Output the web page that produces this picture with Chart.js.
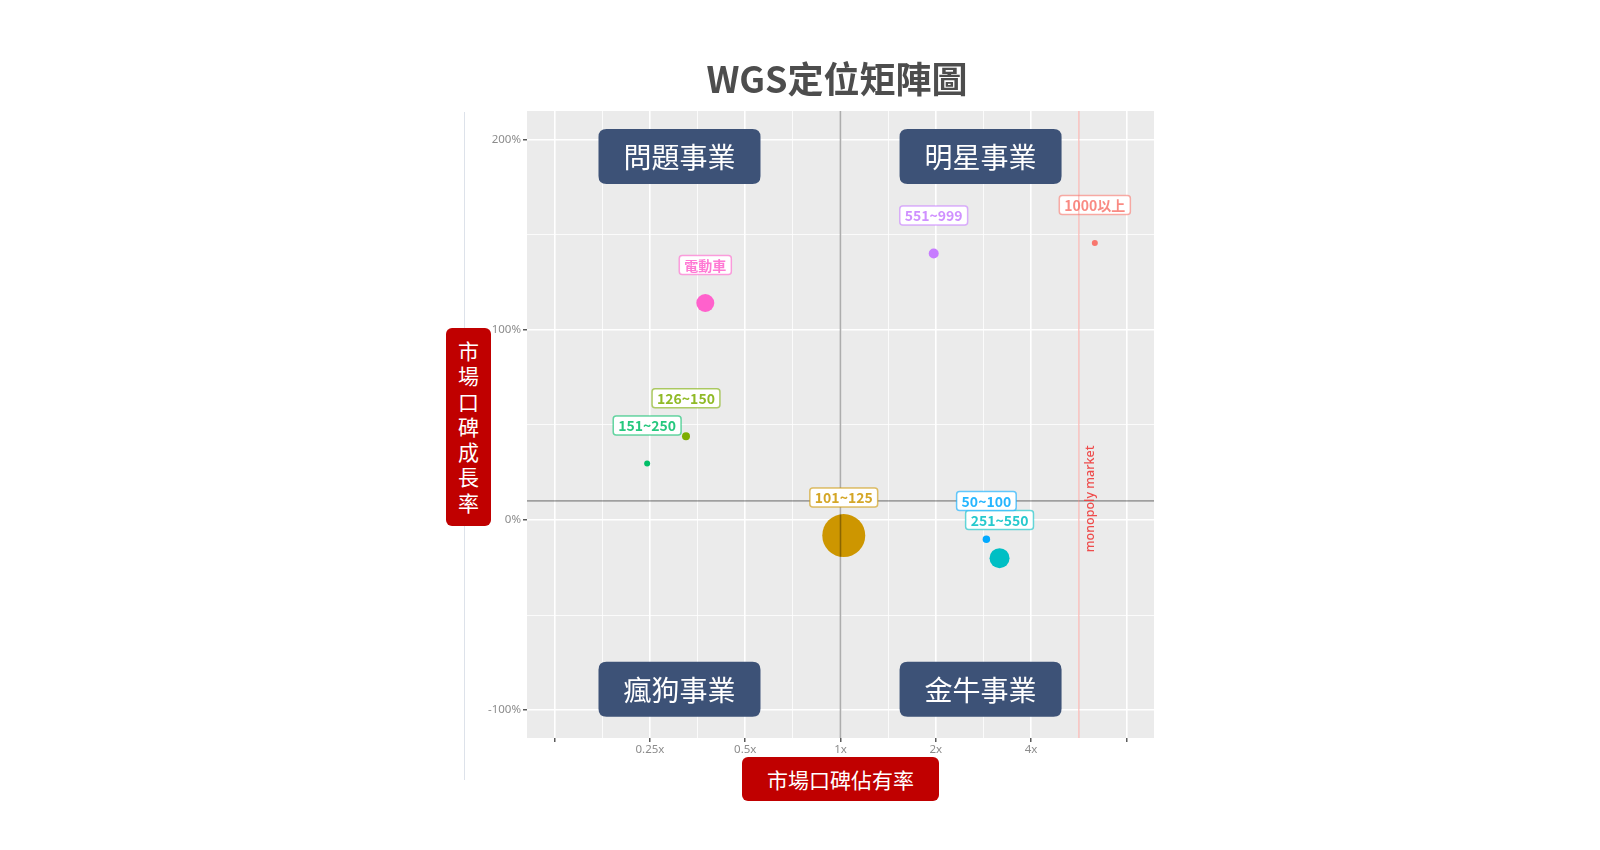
<!DOCTYPE html>
<html>
<head>
<meta charset="utf-8">
<script src="https://cdn.jsdelivr.net/npm/chart.js@4.4.1/dist/chart.umd.min.js"></script>
<style>
html,body{margin:0;padding:0;background:#ffffff;}
#wrap{position:relative;width:1600px;height:850px;overflow:hidden;}
#chart{position:absolute;left:0;top:0;}
#title{position:absolute;left:637px;top:52px;width:400px;text-align:center;font-family:"Noto Sans CJK TC","Noto Sans",sans-serif;font-weight:bold;font-size:36px;line-height:50px;color:#4d4d4d;white-space:nowrap;}
#vline{position:absolute;left:464px;top:112px;width:1px;height:668px;background:#dde2ea;}
#ylab{position:absolute;left:446px;top:328px;width:45px;height:198px;background:#c00000;border-radius:6px;color:#fff;font-family:"Noto Sans CJK TC",sans-serif;font-size:21px;line-height:25.3px;text-align:center;box-sizing:border-box;padding-top:10px;}
#xlab{position:absolute;left:742px;top:757px;width:197px;height:44px;background:#c00000;border-radius:6px;color:#fff;font-family:"Noto Sans CJK TC",sans-serif;font-size:21px;line-height:44px;text-align:center;white-space:nowrap;}
</style>
</head>
<body>
<div id="wrap">
  <canvas id="chart" width="1600" height="850"></canvas>
  <div id="title">WGS定位矩陣圖</div>
  <div id="vline"></div>
  <div id="ylab">市<br>場<br>口<br>碑<br>成<br>長<br>率</div>
  <div id="xlab">市場口碑佔有率</div>
</div>
<script>
// ---- data ----
const categories = ["1000以上", "101~125", "126~150", "151~250", "251~550", "50~100", "551~999", "電動車"];
const shareRatio = [6.36, 1.024, 0.325, 0.245, 3.18, 2.89, 1.97, 0.374];   // relative share (x)
const growthPct  = [145.5, -8.2, 44, 29.6, -20.1, -10.1, 140, 114];         // growth rate (%)
const bubbleSize = [9, 462, 16, 9, 100, 14, 25, 81];                        // volume (area)
const seriesColors = ["#F8766D", "#CD9600", "#7CAE00", "#00BE67", "#00BFC4", "#00A9FF", "#C77CFF", "#FF61CC"];

const xTickValues = [0.125, 0.25, 0.5, 1, 2, 4, 8];
const xTickLabels = ["", "0.25x", "0.5x", "1x", "2x", "4x", ""];
const yTickValues = [-100, 0, 100, 200];
const yTickLabels = ["-100%", "0%", "100%", "200%"];

const quadrantNames = ["問題事業", "明星事業", "瘋狗事業", "金牛事業"];
const quadrantX = [0.31, 2.77, 0.31, 2.77];
const quadrantY = [191, 191, -89, -89];

const refShare = 1;
const refGrowth = 10;
const monopolyShare = 5.66;
const monopolyText = "monopoly market";
const labelNudge = 20;

const xMin = Math.pow(2, -3.29), xMax = Math.pow(2, 3.29);
const yMin = -114.6, yMax = 214.9;

// ---- helpers ----
function hexA(hex, a) {
  const n = parseInt(hex.slice(1), 16);
  return `rgba(${(n >> 16) & 255},${(n >> 8) & 255},${n & 255},${a})`;
}
const xAllTicks = [];
for (let i = 0; i < xTickValues.length; i++) {
  xAllTicks.push({ value: xTickValues[i], major: true, label: xTickLabels[i] });
  if (i < xTickValues.length - 1) xAllTicks.push({ value: xTickValues[i] * Math.SQRT2, major: false, label: "" });
}
const yAllTicks = [];
for (let i = 0; i < yTickValues.length; i++) {
  yAllTicks.push({ value: yTickValues[i], major: true, label: yTickLabels[i] });
  if (i < yTickValues.length - 1) yAllTicks.push({ value: (yTickValues[i] + yTickValues[i + 1]) / 2, major: false, label: "" });
}
function findTick(list, v) {
  return list.find(t => Math.abs(t.value - v) < 1e-6 * Math.max(1, Math.abs(v)));
}
function roundRect(ctx, x, y, w, h, r) {
  ctx.beginPath();
  ctx.moveTo(x + r, y);
  ctx.lineTo(x + w - r, y);
  ctx.quadraticCurveTo(x + w, y, x + w, y + r);
  ctx.lineTo(x + w, y + h - r);
  ctx.quadraticCurveTo(x + w, y + h, x + w - r, y + h);
  ctx.lineTo(x + r, y + h);
  ctx.quadraticCurveTo(x, y + h, x, y + h - r);
  ctx.lineTo(x, y + r);
  ctx.quadraticCurveTo(x, y, x + r, y);
  ctx.closePath();
}

const panelPlugin = {
  id: "panel",
  beforeDraw(chart) {
    const { ctx, chartArea: a } = chart;
    ctx.save();
    ctx.fillStyle = "#EBEBEB";
    ctx.fillRect(a.left, a.top, a.right - a.left, a.bottom - a.top);
    ctx.restore();
  },
  afterDatasetsDraw(chart) {
    const { ctx, chartArea: a } = chart;
    const xs = chart.scales.x, ys = chart.scales.y;
    ctx.save();
    ctx.beginPath();
    ctx.rect(a.left, a.top, a.right - a.left, a.bottom - a.top);
    ctx.clip();
    // reference lines
    ctx.strokeStyle = "rgba(0,0,0,0.32)";
    ctx.lineWidth = 1.6;
    const px1 = xs.getPixelForValue(refShare);
    ctx.beginPath(); ctx.moveTo(px1, a.top); ctx.lineTo(px1, a.bottom); ctx.stroke();
    const py1 = ys.getPixelForValue(refGrowth);
    ctx.beginPath(); ctx.moveTo(a.left, py1); ctx.lineTo(a.right, py1); ctx.stroke();

    // point labels
    ctx.font = "bold 14px 'Noto Sans CJK TC', sans-serif";
    ctx.textAlign = "center";
    ctx.textBaseline = "middle";
    for (let i = 0; i < categories.length; i++) {
      const cx = xs.getPixelForValue(shareRatio[i]);
      const cy = ys.getPixelForValue(growthPct[i] + labelNudge);
      const tw = ctx.measureText(categories[i]).width;
      const w = tw + 10, h = 19;
      roundRect(ctx, cx - w / 2, cy - h / 2, w, h, 3);
      ctx.fillStyle = "#ffffff";
      ctx.fill();
      ctx.strokeStyle = hexA(seriesColors[i], 0.6);
      ctx.lineWidth = 1.5;
      ctx.stroke();
      ctx.fillStyle = hexA(seriesColors[i], 0.85);
      ctx.fillText(categories[i], cx, cy + 0.5);
    }

    // monopoly line
    const pm = xs.getPixelForValue(monopolyShare);
    ctx.strokeStyle = hexA("#F8766D", 0.4);
    ctx.lineWidth = 1.5;
    ctx.beginPath(); ctx.moveTo(pm, a.top); ctx.lineTo(pm, a.bottom); ctx.stroke();
    ctx.save();
    ctx.translate(pm + 11.5, ys.getPixelForValue(refGrowth) - 2);
    ctx.rotate(-Math.PI / 2);
    ctx.font = "500 12.5px 'Noto Sans', 'DejaVu Sans', sans-serif";
    ctx.fillStyle = hexA("#EE3B3B", 0.9);
    ctx.textAlign = "center";
    ctx.textBaseline = "middle";
    ctx.fillText(monopolyText, 0, 0);
    ctx.restore();

    // quadrant boxes
    ctx.font = "28px 'Noto Sans CJK TC', sans-serif";
    for (let i = 0; i < quadrantNames.length; i++) {
      const cx = xs.getPixelForValue(quadrantX[i]);
      const cy = ys.getPixelForValue(quadrantY[i]);
      const w = 162, h = 55;
      roundRect(ctx, cx - w / 2, cy - h / 2, w, h, 8);
      ctx.fillStyle = "#3D5277";
      ctx.fill();
      ctx.fillStyle = "#ffffff";
      ctx.fillText(quadrantNames[i], cx, cy + 1);
    }
    ctx.restore();
  }
};

new Chart(document.getElementById("chart"), {
  type: "scatter",
  data: {
    datasets: [{
      label: "WGS",
      data: shareRatio.map((v, i) => ({ x: v, y: growthPct[i] })),
      backgroundColor: seriesColors,
      borderWidth: 0,
      pointRadius: bubbleSize.map(s => Math.sqrt(s)),
      pointHoverRadius: bubbleSize.map(s => Math.sqrt(s))
    }]
  },
  options: {
    responsive: false,
    animation: false,
    events: [],
    layout: { padding: { left: 467, right: 446, top: 111, bottom: 82 } },
    plugins: { legend: { display: false }, tooltip: { enabled: false }, title: { display: false } },
    scales: {
      x: {
        type: "logarithmic",
        min: xMin, max: xMax,
        afterBuildTicks(scale) { scale.ticks = xAllTicks.map(t => ({ value: t.value })); },
        afterFit(scale) { scale.height = 30; },
        border: { display: false },
        grid: {
          color: "#ffffff",
          lineWidth: c => (findTick(xAllTicks, c.tick.value) || {}).major ? 1.6 : 0.8,
          tickLength: 4,
          tickWidth: 1.2,
          tickColor: c => (findTick(xAllTicks, c.tick.value) || {}).major ? "#333333" : "rgba(0,0,0,0)"
        },
        ticks: {
          autoSkip: false, maxRotation: 0, padding: 1,
          color: "#8c8c8c",
          font: { family: "'Noto Sans', sans-serif", size: 11.5 },
          callback: v => (findTick(xAllTicks, v) || { label: "" }).label
        }
      },
      y: {
        type: "linear",
        min: yMin, max: yMax,
        afterBuildTicks(scale) { scale.ticks = yAllTicks.map(t => ({ value: t.value })); },
        afterFit(scale) { scale.width = 60; },
        border: { display: false },
        grid: {
          color: "#ffffff",
          lineWidth: c => (findTick(yAllTicks, c.tick.value) || {}).major ? 1.6 : 0.8,
          tickLength: 4,
          tickWidth: 1.2,
          tickColor: c => (findTick(yAllTicks, c.tick.value) || {}).major ? "#333333" : "rgba(0,0,0,0)"
        },
        ticks: {
          autoSkip: false, padding: 2,
          color: "#8c8c8c",
          font: { family: "'Noto Sans', sans-serif", size: 11.5 },
          callback: v => (findTick(yAllTicks, v) || { label: "" }).label
        }
      }
    }
  },
  plugins: [panelPlugin]
});
</script>
</body>
</html>
